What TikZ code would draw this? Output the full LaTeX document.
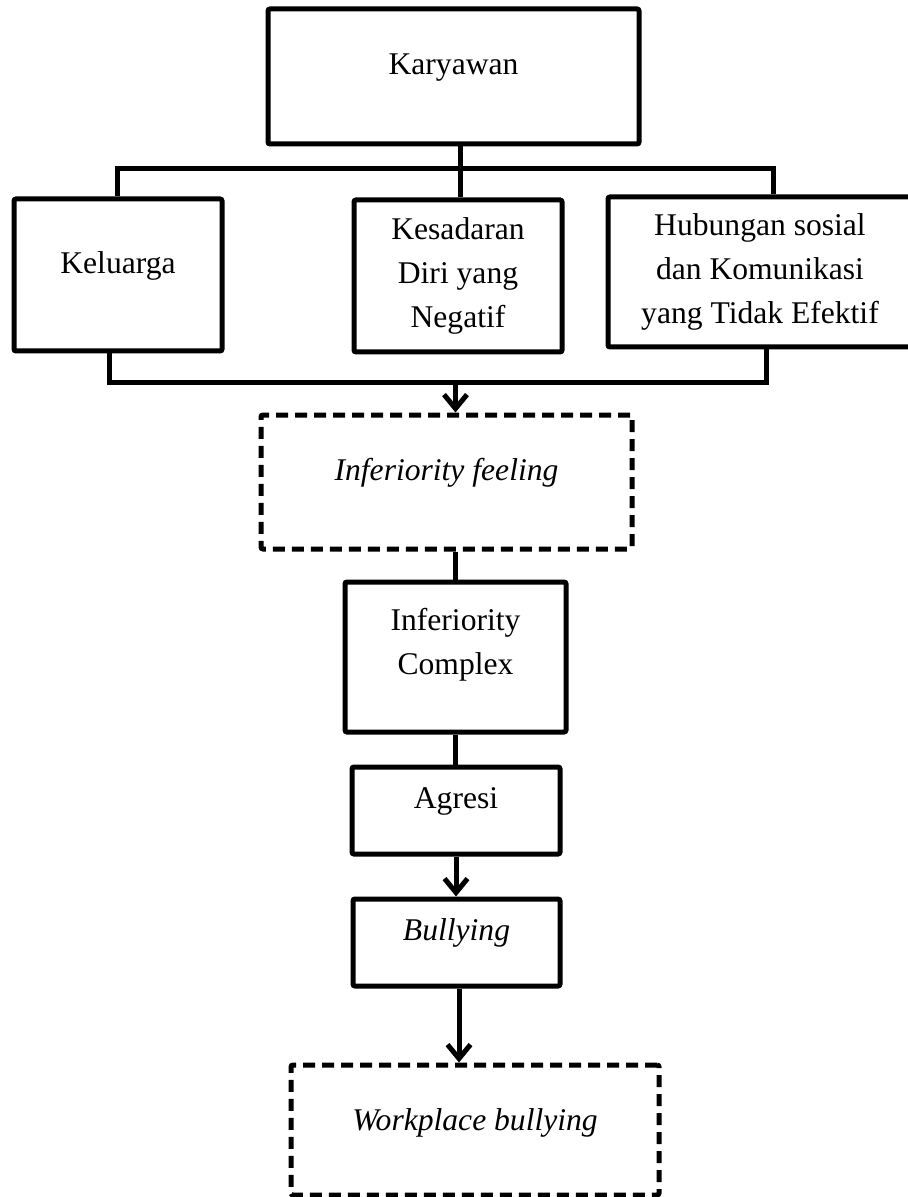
\documentclass[tikz,border=0pt]{standalone}
\usepackage{fontspec}
\setmainfont{Liberation Serif}
\usetikzlibrary{arrows.meta}
\tikzstyle{block} = [rectangle, draw, line width=2.5pt, rounded corners=1pt,
    align=center, fill=white]
\tikzstyle{lifted} = [text depth=12.5pt]
\tikzstyle{dashblock} = [block, dash pattern=on 6pt off 3.5pt]

\begin{document}
\begin{tikzpicture}[
x=0.5pt, y=-0.5pt,
every node/.style = {font=\fontsize{15.8}{22}\selectfont},
link/.style = {draw, line width=2.5pt},
flow/.style = {link, -{Straight Barb[length=7pt, width=11.5pt]}},
                        ]
\useasboundingbox (0,0) rectangle (908,1197);
% top of the tree
\node [block, lifted, minimum width=185.5pt, minimum height=67.5pt] (karyawan) at (453.5,76.5) {Karyawan};
% the three causes
\node [block, lifted, minimum width=104pt, minimum height=76pt] (keluarga) at (118,275) {Keluarga};
\node [block, minimum width=104pt, minimum height=76pt] (kesadaran) at (458,276) {Kesadaran\\Diri yang\\Negatif};
\node [block, minimum width=152pt, minimum height=75pt] (hubungan) at (760,272) {Hubungan sosial\\dan Komunikasi\\yang Tidak Efektif};
% the chain down
\node [dashblock, lifted, minimum width=185.5pt, minimum height=67pt] (feeling) at (446.5,482) {\itshape Inferiority feeling};
\node [block, text depth=15.5pt, minimum width=110.5pt, minimum height=75pt] (complex) at (455.5,657) {Inferiority\\Complex};
\node [block, lifted, minimum width=104pt, minimum height=43.5pt] (agresi) at (456,810.5) {Agresi};
\node [block, lifted, minimum width=103.5pt, minimum height=43.5pt] (bullying) at (456.5,942.5) {\itshape Bullying};
\node [dashblock, text depth=10pt, minimum width=184pt, minimum height=65pt] (workplace) at (475,1130) {\itshape Workplace bullying};

% fork from Karyawan
\coordinate (topL) at (117,169);
\coordinate (topM) at (460,169);
\coordinate (topR) at (773,169);
\draw [link] (karyawan.south -| topM) -- (kesadaran.north -| topM);
\draw [link] (keluarga.north -| topL) |- (topR) -- (hubungan.north -| topR);

% join into Inferiority feeling
\coordinate (botL) at (109,383);
\coordinate (botR) at (766,383);
\draw [link] (keluarga.south -| botL) |- (botR) -- (hubungan.south -| botR);
\draw [flow] (botL -| complex) -- (feeling.north -| complex);

\draw [link] (feeling.south -| complex) -- (complex.north);
\draw [link] (complex.south) -- (agresi.north -| complex);
\draw [flow] (agresi.south) -- (bullying.north -| agresi);
\draw [flow] (bullying.south -| 459,0) -- (workplace.north -| 459,0);
\end{tikzpicture}
\end{document}
